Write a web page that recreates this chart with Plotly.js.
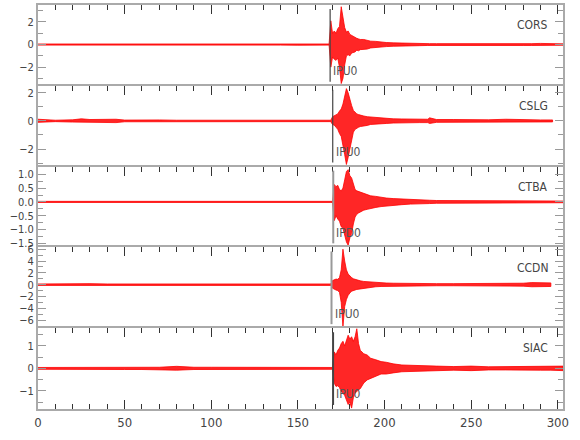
<!DOCTYPE html>
<html><head><meta charset="utf-8">
<script src="https://cdn.plot.ly/plotly-3.0.1.min.js"></script>
<style>body{margin:0;background:#fff}#c{width:580px;height:440px}</style>
</head><body><div id="c"></div>
<script>
// time grid (s)
const T = [0,10,20,25,30,40,45,50,60,70,80,90,100,110,120,130,140,150,160,168,169,170,171,172,173,174,175,176,177,178,179,180,181,182,183,184,185,186,188,190,192,195,198,201,205,210,215,220,225,226,230,240,250,260,270,280,285,290,296,297,300,303];
const stations = ["CORS","CSLG","CTBA","CCDN","SIAC"];
const pickNames = ["IPU0","IPU0","IPD0","IPU0","IPU0"];
const pickTimes = [168.6,170.1,170.4,169.4,170.3];
// upper / lower envelopes
const U1=[0.05,0.05,0.05,0.05,0.05,0.05,0.05,0.05,0.05,0.06,0.1,0.05,0.05,0.05,0.05,0.05,0.05,0.06,0.08,0.05,2.1,1.0,1.2,1.0,1.4,1.6,3.35,2.4,1.5,1.1,1.2,0.9,0.8,0.7,0.6,0.55,0.5,0.45,0.45,0.35,0.3,0.28,0.2,0.18,0.15,0.12,0.1,0.1,0.08,0.08,0.08,0.07,0.07,0.07,0.07,0.08,0.08,0.1,0.1,0.08,0.07,0.06];
const L1=[-0.05,-0.05,-0.05,-0.05,-0.05,-0.05,-0.05,-0.05,-0.05,-0.06,-0.1,-0.05,-0.05,-0.05,-0.05,-0.05,-0.05,-0.06,-0.08,-0.05,-2.0,-1.1,-1.3,-1.4,-1.2,-2.0,-3.45,-3.0,-1.8,-1.0,-0.9,-1.0,-0.75,-0.7,-0.65,-0.5,-0.55,-0.45,-0.4,-0.4,-0.3,-0.25,-0.22,-0.18,-0.15,-0.12,-0.1,-0.1,-0.08,-0.08,-0.08,-0.07,-0.07,-0.07,-0.07,-0.08,-0.08,-0.1,-0.1,-0.08,-0.07,-0.06];
const U2=[0.12,0.05,0.08,0.15,0.1,0.12,0.12,0.06,0.08,0.07,0.05,0.05,0.05,0.05,0.05,0.05,0.05,0.05,0.05,0.05,0.05,0.3,0.35,0.4,0.5,0.7,0.85,1.2,1.8,2.3,2.0,1.5,1.1,0.75,0.6,0.5,0.45,0.4,0.35,0.3,0.28,0.22,0.2,0.18,0.15,0.14,0.12,0.12,0.12,0.22,0.1,0.1,0.08,0.08,0.12,0.08,0.08,0.07,0.07,0.07,null,null];
const L2=[-0.1,-0.05,-0.08,-0.13,-0.1,-0.12,-0.12,-0.06,-0.08,-0.07,-0.05,-0.05,-0.05,-0.05,-0.05,-0.05,-0.05,-0.05,-0.05,-0.05,-0.05,-0.26,-0.3,-0.45,-0.6,-0.9,-1.1,-1.6,-2.4,-3.1,-2.6,-2.0,-1.3,-0.8,-0.6,-0.5,-0.45,-0.4,-0.35,-0.32,-0.25,-0.22,-0.2,-0.18,-0.15,-0.14,-0.12,-0.12,-0.12,-0.18,-0.1,-0.1,-0.08,-0.08,-0.12,-0.08,-0.08,-0.07,-0.07,-0.07,null,null];
const U3=[0.02,0.02,0.02,0.02,0.02,0.02,0.02,0.02,0.02,0.02,0.02,0.02,0.02,0.02,0.02,0.02,0.02,0.02,0.02,0.02,0.02,0.02,0.63,0.55,0.6,0.45,0.4,0.5,0.8,1.1,1.17,0.95,0.87,0.6,0.45,0.4,0.38,0.35,0.32,0.27,0.22,0.2,0.16,0.14,0.12,0.1,0.08,0.07,0.06,0.06,0.05,0.05,0.04,0.03,0.03,0.03,0.03,0.03,0.03,0.03,0.03,0.03];
const L3=[-0.02,-0.02,-0.02,-0.02,-0.02,-0.02,-0.02,-0.02,-0.02,-0.02,-0.02,-0.02,-0.02,-0.02,-0.02,-0.02,-0.02,-0.02,-0.02,-0.02,-0.02,-0.02,-0.68,-0.5,-0.62,-0.7,-0.9,-0.96,-1.2,-1.45,-1.57,-1.3,-1.15,-0.8,-0.55,-0.45,-0.4,-0.35,-0.3,-0.27,-0.23,-0.2,-0.17,-0.14,-0.12,-0.1,-0.08,-0.07,-0.06,-0.06,-0.05,-0.05,-0.04,-0.03,-0.03,-0.03,-0.03,-0.03,-0.03,-0.03,-0.03,-0.03];
const U4=[0.12,0.15,0.2,0.18,0.18,0.12,0.12,0.12,0.12,0.12,0.12,0.12,0.12,0.12,0.12,0.12,0.12,0.12,0.12,0.12,0.12,0.7,0.8,0.95,0.9,1.2,2.5,6.0,4.0,2.5,1.8,1.4,1.2,1.0,0.9,0.8,0.7,0.65,0.55,0.5,0.45,0.35,0.3,0.28,0.25,0.22,0.2,0.2,0.18,0.18,0.18,0.18,0.18,0.2,0.2,0.25,0.35,0.35,0.3,null,null,null];
const L4=[-0.12,-0.15,-0.2,-0.18,-0.18,-0.12,-0.12,-0.12,-0.12,-0.12,-0.12,-0.12,-0.12,-0.12,-0.12,-0.12,-0.12,-0.12,-0.12,-0.12,-0.12,-0.6,-0.7,-0.9,-1.0,-1.3,-3.0,-7.1,-3.7,-2.5,-1.8,-1.4,-1.1,-1.0,-0.9,-0.8,-0.7,-0.65,-0.55,-0.5,-0.45,-0.35,-0.3,-0.28,-0.25,-0.22,-0.2,-0.2,-0.18,-0.18,-0.18,-0.18,-0.18,-0.2,-0.2,-0.25,-0.35,-0.35,-0.3,null,null,null];
const U5=[0.04,0.04,0.06,0.05,0.07,0.05,0.05,0.05,0.05,0.05,0.09,0.05,0.05,0.05,0.05,0.05,0.05,0.05,0.05,0.04,0.04,0.04,0.73,0.6,0.8,0.9,1.1,1.2,1.0,1.3,1.47,1.3,1.4,1.2,1.4,1.76,1.1,0.8,0.65,0.59,0.45,0.38,0.3,0.27,0.2,0.15,0.13,0.12,0.1,0.1,0.1,0.08,0.1,0.07,0.07,0.08,0.07,0.08,0.08,0.08,0.08,0.1];
const L5=[-0.04,-0.04,-0.06,-0.05,-0.07,-0.05,-0.05,-0.05,-0.05,-0.05,-0.08,-0.05,-0.05,-0.05,-0.05,-0.05,-0.05,-0.05,-0.05,-0.04,-0.04,-0.04,-0.66,-0.8,-0.77,-0.85,-1.03,-1.1,-1.2,-1.4,-1.6,-1.5,-1.76,-1.3,-1.1,-1.03,-0.95,-0.9,-0.65,-0.51,-0.45,-0.35,-0.25,-0.25,-0.2,-0.15,-0.13,-0.12,-0.1,-0.1,-0.1,-0.08,-0.1,-0.07,-0.07,-0.08,-0.07,-0.08,-0.08,-0.08,-0.08,-0.1];
const uppers=[U1,U2,U3,U4,U5], lowers=[L1,L2,L3,L4,L5];
const yRanges=[[-3.65,3.5],[-3.25,2.5],[-1.65,1.28],[-7.35,6.3],[-1.8,1.78]];
const yDtick=[2,2,0.5,2,1], yMinor=[1,1,0.25,1,0.5];
const pickColors=["#444","#444","#999","#999","#444"];

const FONT="Liberation Sans Narrow, DejaVu Sans Condensed, sans-serif";
const traces=[], shapes=[], annotations=[];
const layout={width:580,height:440,margin:{l:38,r:17,t:5,b:31},showlegend:false,
  paper_bgcolor:"#fff",plot_bgcolor:"#fff",font:{family:FONT,size:12,color:"#444"}};
for(let i=0;i<5;i++){
  const xs=[],us=[],ls=[];
  for(let k=0;k<T.length;k++){ if(uppers[i][k]!==null){xs.push(T[k]);us.push(uppers[i][k]);ls.push(lowers[i][k]);} }
  const px=xs.concat(xs.slice().reverse());
  const py=us.concat(ls.slice().reverse());
  const n=i+1, xa='x'+(n===1?'':n), ya='y'+(n===1?'':n);
  traces.push({x:px,y:py,type:'scatter',mode:'lines',fill:'toself',
    fillcolor:'rgba(255,0,0,0.85)',line:{color:'#ff0000',width:0.8},xaxis:xa,yaxis:ya,hoverinfo:'skip'});
  const dom=[(4-i)*0.2,(5-i)*0.2];
  const last=(i===4);
  layout['xaxis'+(n===1?'':n)]={domain:[0,1],anchor:ya,range:[0,303],dtick:50,tick0:0,
    side:last?'bottom':'top',showticklabels:last,ticks:'inside',ticklen:9,tickwidth:1,tickcolor:'#333',
    minor:{dtick:10,ticks:'inside',ticklen:5,tickcolor:'#333'},
    showline:true,linecolor:'#aaa',linewidth:2,mirror:last?'ticks':false,showgrid:false,zeroline:false,
    tickfont:{family:FONT,size:13,color:'#444'}};
  layout['yaxis'+(n===1?'':n)]={domain:dom,anchor:xa,range:yRanges[i],dtick:yDtick[i],tick0:0,
    tickformat:i===2?'.1f':'',ticks:'inside',ticklen:8,tickwidth:1,tickcolor:'#999',
    minor:{dtick:yMinor[i],ticks:'inside',ticklen:5,tickcolor:'#999'},
    showline:true,linecolor:'#aaa',linewidth:2,mirror:'ticks',showgrid:false,zeroline:false,
    tickfont:{family:FONT,size:11,color:'#444'}};
  shapes.push({type:'line',xref:xa,yref:ya+' domain',x0:pickTimes[i],x1:pickTimes[i],y0:0.05,y1:0.95,
    line:{color:pickColors[i],width:i>=2?2:1.2}});
  annotations.push({xref:xa,yref:ya+' domain',x:pickTimes[i],y:0.18,xanchor:'left',yanchor:'middle',xshift:1,
    text:pickNames[i],showarrow:false,font:{family:FONT,size:12,color:'#555'}});
  annotations.push({xref:xa+' domain',yref:ya+' domain',x:0.975,y:0.75,xanchor:'right',yanchor:'middle',
    text:stations[i],showarrow:false,font:{family:FONT,size:12,color:'#444'}});
}
layout.shapes=shapes; layout.annotations=annotations;
Plotly.newPlot('c',traces,layout,{staticPlot:true,displayModeBar:false});
</script></body></html>
